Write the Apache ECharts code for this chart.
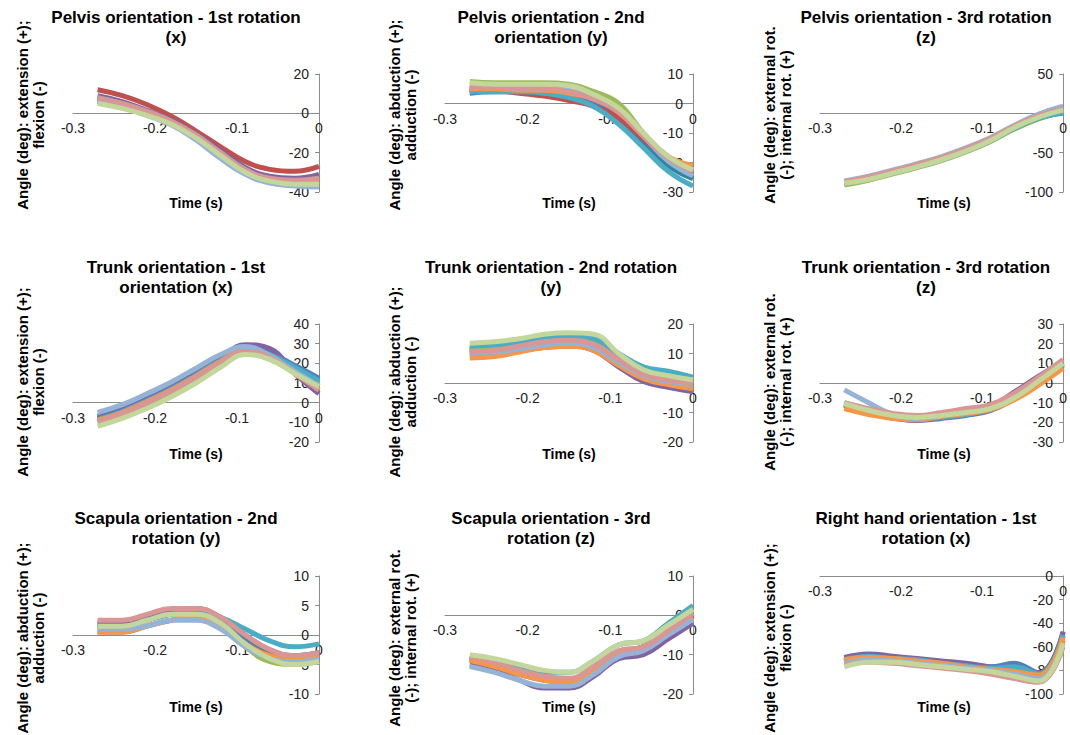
<!DOCTYPE html>
<html>
<head>
<meta charset="utf-8">
<script src="https://cdn.jsdelivr.net/npm/echarts@6/dist/echarts.min.js"></script>
<style>
html,body{margin:0;padding:0;background:#fff;}
#chart{width:1070px;height:735px;}
</style>
</head>
<body>
<div id="chart"></div>
<script>
// ---- Data ----
const TIME = [-0.27, -0.24, -0.21, -0.18, -0.15, -0.12, -0.09, -0.06, -0.03, 0];

// series order: blue, red, green, purple, aqua, orange, light blue, pink, light green, teal
const pelvisRot1 = [
  [7, 4, 0.5, -4, -11, -20, -29, -34, -36.5, -37],
  [12, 9, 4.5, -1.5, -9, -17, -24.5, -28.5, -29.5, -27],
  [6, 3, -0.5, -5, -12, -21, -29.5, -34, -35.5, -34.5],
  [9, 6, 1.5, -3.5, -10.5, -19, -27.5, -32, -33, -31],
  [8, 5, 1, -4, -11, -20, -28.5, -33.5, -35, -35],
  [7.5, 4.5, 0.5, -4.5, -11.5, -20.5, -29, -33.5, -35, -35.5],
  [6, 3, -1, -6, -13.5, -23, -31, -35.5, -37, -37.5],
  [8, 5, 1, -4, -11, -20, -28.5, -33, -34, -33],
  [5, 2.5, -1, -5.5, -12.5, -21.5, -30, -34.5, -36, -36],
  [7, 4.5, 0.5, -4.5, -11.5, -21, -29.5, -34, -36, -36.5]
];
const pelvisRot2 = [
  [3.5, 4, 4, 3.5, 2.5, 0.5, -4.5, -12, -19.5, -24],
  [5, 4.5, 3.5, 2.5, 1, -1, -5, -12, -18.5, -22],
  [7.5, 7, 7, 7, 6.5, 4, 0, -10, -18, -22.5],
  [5, 5, 5, 5, 4, 1.5, -3, -11, -18.5, -22],
  [4, 4, 4, 3.5, 2, -1, -7, -15, -23, -28],
  [5, 5, 4.5, 4.5, 3.5, 1.5, -3, -11, -18, -21],
  [6, 6, 5.5, 5.5, 4.5, 2, -2.5, -11, -19.5, -24.5],
  [5.5, 5.5, 5, 5, 4, 1.5, -3, -11, -18.5, -23],
  [7, 6.5, 6.5, 6.5, 6, 3, -1.5, -10, -18, -22.5],
  [4.5, 4.5, 4.5, 4, 3, 0, -5, -13, -21, -25.5]
];
const pelvisRot3 = [
  [-89, -83, -75, -67, -58, -47, -34, -19, -6, 0],
  [-88, -82, -74, -66, -57, -46, -33, -17, -4, 4],
  [-91, -85, -77, -69, -60, -49, -36, -20, -7, 2],
  [-88, -82, -74, -66, -57, -46, -33, -17, -4, 5],
  [-89, -83, -76, -68, -59, -48, -35, -19, -6, 1],
  [-88, -82, -74, -66, -57, -46, -33, -17, -3, 5],
  [-86, -80, -72, -64, -55, -44, -31, -15, -1, 9],
  [-87, -81, -73, -65, -56, -45, -32, -16, -3, 6],
  [-89, -84, -76, -68, -59, -48, -35, -18, -5, 4],
  [-88, -82, -75, -67, -58, -47, -34, -18, -5, 3]
];
const trunkRot1 = [
  [-7, -2.5, 3, 9, 16, 23, 28, 25, 19, 12.5],
  [-9, -5, 0.5, 6.5, 13.5, 21, 27, 24, 16, 8],
  [-10, -6, -0.5, 5, 12, 19.5, 25, 22, 15.5, 9.5],
  [-8, -4, 1.5, 7.5, 14.5, 22, 29.5, 27.5, 15, 4.5],
  [-8.5, -4.5, 1, 7, 14, 21.5, 27, 24.5, 18, 11],
  [-9, -5, 0.5, 6.5, 13.5, 21, 26.5, 23.5, 15, 6.5],
  [-5, -1, 4.5, 10.5, 17.5, 24.5, 28.5, 24, 16, 8.5],
  [-9.5, -5.5, 0, 6, 13, 20.5, 26, 23, 15, 6.5],
  [-12, -8, -3, 3, 10, 18, 24.5, 22, 15, 8],
  [-8, -4, 1.5, 7.5, 14.5, 22, 28, 25.5, 18.5, 11.5]
];
const trunkRot2 = [
  [11, 11.5, 12.5, 13.5, 14, 12.5, 7, 2.5, 0.5, -1],
  [11, 12, 14, 15.5, 16.5, 14.5, 7.5, 1, -0.5, -1.5],
  [11.5, 12, 13, 14.5, 15, 13.5, 8, 3.5, 1.5, 0],
  [9.5, 10, 11, 12, 12.5, 11, 5.5, 0.5, -1.5, -3],
  [12.5, 13, 14, 15.5, 16, 15, 10, 5.5, 4, 2],
  [8.5, 9, 10.5, 12, 12.5, 11, 6, 1.5, -0.5, -2],
  [10, 10.5, 11.5, 13, 13.5, 12, 7, 2.5, 0.5, -0.5],
  [10.5, 11, 12.5, 14, 14.5, 13, 8, 3, 1, 0],
  [13.5, 14, 15, 16.5, 17, 16.5, 10, 4.5, 2.5, 1],
  [11.5, 12, 13, 14.5, 15, 13.5, 8.5, 3.5, 1.5, 0.5]
];
const trunkRot3 = [
  [-11, -14.5, -17.5, -19, -18, -16.5, -14, -8, 0, 9],
  [-11.5, -15, -18, -19, -17.5, -16, -13.5, -7.5, 1, 10],
  [-10, -14, -17, -18, -17, -15.5, -13, -7.5, 0.5, 9.5],
  [-10.5, -14, -17, -18, -16.5, -14.5, -12, -4.5, 3.5, 11],
  [-11, -14.5, -17.5, -18.5, -17.5, -16, -13.5, -8, 0, 8.5],
  [-13, -16, -18, -18.5, -17, -15.5, -13.5, -8.5, -1, 7.5],
  [-3.5, -10, -16, -18, -16.5, -14.5, -12, -6, 2, 10.5],
  [-10, -13, -15.5, -16.5, -15, -13, -11, -5, 3, 12],
  [-10.5, -14, -16.5, -17.5, -16.5, -15, -13, -7.5, 1, 10],
  [-11, -14.5, -17, -18, -17, -15, -13, -7, 1, 9.5]
];
const scapulaRot2 = [
  [1.5, 1.5, 2.5, 3.5, 3.5, 2, -1, -3.5, -4, -3.5],
  [0.5, 0.5, 1.5, 2.5, 3, 1.5, -1.5, -3.5, -4, -3.5],
  [1.5, 1.5, 2.5, 3.5, 3.5, 1.5, -2, -4.5, -5, -4.5],
  [2, 2, 3, 4, 4.5, 3, 0, -2.5, -3.5, -3],
  [1.5, 1.5, 2.5, 3.5, 4, 3, 1, -1, -2, -1.5],
  [0.5, 0.5, 1.5, 2.5, 3, 1.5, -1.5, -3.5, -4, -3.5],
  [1, 1, 1.5, 2.5, 2.5, 1, -2, -4, -4.5, -4],
  [2.5, 2.5, 3.5, 4.5, 4.5, 3, 0, -2.5, -3.5, -3],
  [1.5, 1.5, 2.5, 3.5, 3.5, 2, -1.5, -4, -5, -4.5],
  [2, 2, 3, 4, 4, 2.5, -0.5, -3, -3.5, -3]
];
const scapulaRot3 = [
  [-11.5, -13, -15, -16.5, -17, -14, -10, -8, -4, 0],
  [-10.5, -12, -14, -16, -16.5, -13.5, -9.5, -8, -4, 0],
  [-11, -12.5, -14.5, -16, -16.5, -13.5, -9.5, -8, -3.5, 0.5],
  [-12.5, -14, -16.5, -18.5, -18.5, -15.5, -11, -10, -6, -2],
  [-10.5, -11.5, -13, -14.5, -14.5, -11.5, -7.5, -6.5, -2, 2.5],
  [-11.5, -13, -15, -16.5, -17, -14, -10, -8.5, -4.5, -0.5],
  [-13, -14.5, -16.5, -18, -18, -15, -10.5, -9, -5, -1],
  [-10.5, -12, -14, -15.5, -16, -13, -9, -8, -4, 0.5],
  [-10, -11, -12.5, -14, -14.5, -11.5, -7.5, -6.5, -2.5, 1.5],
  [-11, -12.5, -14.5, -16, -16.5, -13.5, -9.5, -8, -3.5, 0.5]
];
const handRot1 = [
  [-70, -68, -70, -71, -73, -76, -77, -74, -82, -48],
  [-73, -70, -71, -73, -75, -78, -80, -83, -88, -55],
  [-72, -69, -70, -72, -74, -77, -79, -82, -86, -55],
  [-69, -66, -68, -70, -72, -74, -77, -79, -82, -47],
  [-71, -68, -70, -71, -74, -76, -78, -77, -83, -50],
  [-71, -69, -70, -72, -74, -77, -79, -81, -84, -52],
  [-74, -71, -72, -74, -76, -78, -80, -83, -87, -58],
  [-75, -73, -74, -76, -78, -80, -83, -87, -90, -60],
  [-77, -73, -73, -75, -77, -79, -81, -85, -89, -57],
  [-72, -69, -70, -72, -74, -77, -78, -79, -84, -51]
];

const TITLES = [
  'Pelvis orientation - 1st rotation\n(x)',
  'Pelvis orientation - 2nd\norientation (y)',
  'Pelvis orientation - 3rd rotation\n(z)',
  'Trunk orientation - 1st\norientation (x)',
  'Trunk orientation - 2nd rotation\n(y)',
  'Trunk orientation - 3rd rotation\n(z)',
  'Scapula orientation - 2nd\nrotation (y)',
  'Scapula orientation - 3rd\nrotation (z)',
  'Right hand orientation - 1st\nrotation (x)'
];
const Y_TITLES = [
  'Angle (deg): extension (+);\nflexion (-)',
  'Angle (deg): abduction (+);\nadduction (-)',
  'Angle (deg): external rot.\n(-); internal rot. (+)',
  'Angle (deg): extension (+);\nflexion (-)',
  'Angle (deg): abduction (+);\nadduction (-)',
  'Angle (deg): external rot.\n(-); internal rot. (+)',
  'Angle (deg): abduction (+);\nadduction (-)',
  'Angle (deg): external rot.\n(-); internal rot. (+)',
  'Angle (deg): extension (+);\nflexion (-)'
];
const X_TITLE = 'Time (s)';
const Y_MIN = [-40, -30, -100, -20, -20, -30, -10, -20, -100];
const Y_MAX = [20, 10, 50, 40, 20, 30, 10, 10, 0];
const Y_STEP = [20, 10, 50, 10, 10, 10, 5, 10, 20];
const PANELS = [pelvisRot1, pelvisRot2, pelvisRot3, trunkRot1, trunkRot2, trunkRot3, scapulaRot2, scapulaRot3, handRot1];

// ---- Layout / style ----
const COLORS = ['#4F81BD', '#C0504D', '#9BBB59', '#8064A2', '#4BACC6', '#F79646', '#95B3D7', '#D99694', '#C3D69B', '#31859C'];
const SERIES_Z = [3, 4, 5, 6, 7, 8, 9, 10, 11, 2];
const COL_LEFT = [73, 445, 820];
const COL_WIDTH = [246, 248, 248];
const ROW_TOP = [74, 324, 576];
const PLOT_H = 118;
const TITLE_CX = [176, 551, 926];
const TITLE_CY = [27, 277, 528];
const XT_CY = [203, 454, 707];
const YT_CX = [30, 402, 777];
const YT_CY = [115, 382, 638];
const FONT = '"Liberation Sans", Arial, sans-serif';

const grids = [], xAxes = [], yAxes = [], series = [], graphics = [];
PANELS.forEach((panel, p) => {
  const r = Math.floor(p / 3), c = p % 3;
  grids.push({left: COL_LEFT[c], top: ROW_TOP[r], width: COL_WIDTH[c], height: PLOT_H});
  // place the time axis at value 0 of the angle axis
  const zeroFromBottom = PLOT_H * (0 - Y_MIN[p]) / (Y_MAX[p] - Y_MIN[p]);
  xAxes.push({
    type: 'value', gridIndex: p, min: -0.3, max: 0, interval: 0.1,
    position: 'bottom', offset: -zeroFromBottom,
    axisLine: {onZero: false, lineStyle: {color: '#8c8c8c', width: 1}},
    axisTick: {show: false},
    splitLine: {show: false},
    axisLabel: {color: '#222', fontSize: 14, fontFamily: FONT, margin: 8,
      formatter: v => Math.abs(v) < 1e-9 ? '0' : v.toFixed(1)}
  });
  yAxes.push({
    type: 'value', gridIndex: p, min: Y_MIN[p], max: Y_MAX[p], interval: Y_STEP[p],
    position: 'right',
    axisLine: {show: true, onZero: false, lineStyle: {color: '#8c8c8c', width: 1}},
    axisTick: {show: true, inside: true, length: 4, lineStyle: {color: '#8c8c8c'}},
    splitLine: {show: false},
    axisLabel: {inside: true, color: '#222', fontSize: 14, fontFamily: FONT, margin: 10}
  });
  panel.forEach((vals, s) => {
    series.push({
      type: 'line', xAxisIndex: p, yAxisIndex: p,
      data: TIME.map((t, i) => [t, vals[i]]),
      smooth: 0.45, showSymbol: false, symbol: 'none',
      lineStyle: {width: 5, color: COLORS[s]},
      itemStyle: {color: COLORS[s]},
      clip: false,
      z: SERIES_Z[s]
    });
  });
  graphics.push({
    type: 'text', x: TITLE_CX[c], y: TITLE_CY[r],
    style: {text: TITLES[p], fill: '#000', font: 'bold 17px ' + FONT, align: 'center', verticalAlign: 'middle', lineHeight: 20}
  });
  graphics.push({
    type: 'text', x: COL_LEFT[c] + COL_WIDTH[c] / 2, y: XT_CY[r],
    style: {text: X_TITLE, fill: '#000', font: 'bold 14px ' + FONT, align: 'center', verticalAlign: 'middle'}
  });
  graphics.push({
    type: 'text', x: YT_CX[c], y: YT_CY[r], rotation: Math.PI / 2,
    style: {text: Y_TITLES[p], fill: '#000', font: 'bold 15px ' + FONT, align: 'center', verticalAlign: 'middle', lineHeight: 16}
  });
});

const chart = echarts.init(document.getElementById('chart'), null, {renderer: 'svg'});
chart.setOption({
  animation: false,
  backgroundColor: '#fff',
  grid: grids,
  xAxis: xAxes,
  yAxis: yAxes,
  series: series,
  graphic: graphics
});
</script>
</body>
</html>
